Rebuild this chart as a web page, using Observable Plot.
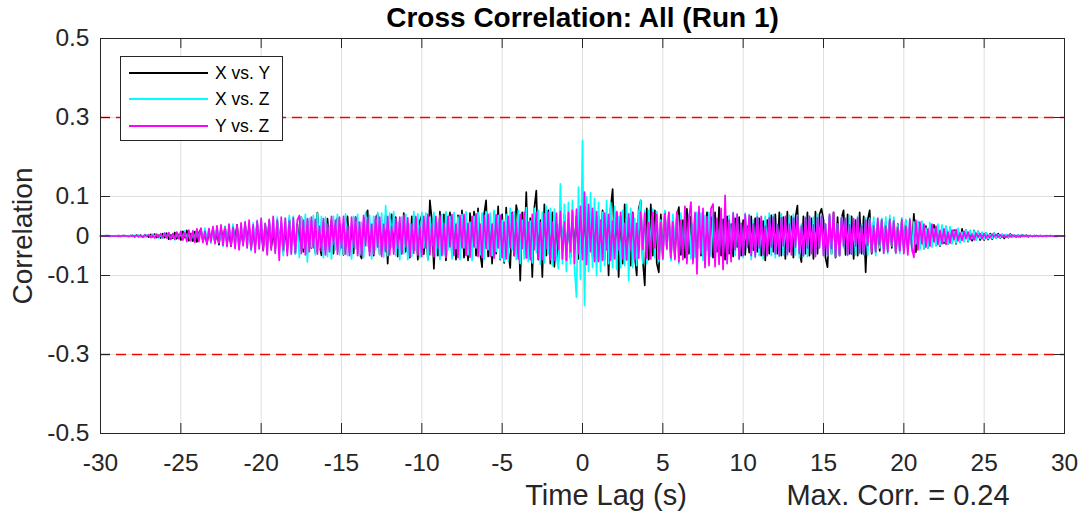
<!DOCTYPE html>
<html><head><meta charset="utf-8">
<script src="https://cdn.jsdelivr.net/npm/d3@7"></script>
<script src="https://cdn.jsdelivr.net/npm/@observablehq/plot@0.6"></script>
<style>
body{margin:0;background:#fff;}
#wrap{position:relative;width:1085px;height:516px;font-family:Arial,"Liberation Sans",Helvetica,sans-serif;}
#legend{position:absolute;left:120px;top:56px;width:163px;height:85px;border:1px solid #262626;background:#fff;box-sizing:border-box;}
.row{position:absolute;left:0;width:100%;height:26px;}
.sw{position:absolute;left:8px;width:79px;height:2px;top:12px;}
.lab{position:absolute;left:94px;top:0;font-size:17.5px;line-height:26px;color:#000;white-space:nowrap;}
</style>
</head><body>
<div id="wrap"></div>
<script>
// ---- data ----
const seriesNames = ["X vs. Y", "X vs. Z", "Y vs. Z"];
const lagStart = -30, lagStep = 0.125; // time lag (s) of first sample and sample spacing
const xTicks = [-30,-25,-20,-15,-10,-5,0,5,10,15,20,25,30];
const yTicks = [-0.5,-0.3,-0.1,0,0.1,0.3,0.5];
const thresholds = [0.3,-0.3];
const maxCorr = 0.24;

// X vs. Y (one row = 1 s)
const xyValues = [
0,0,0,.001,0,-.001,0,0,
0,.001,-.001,0,.001,0,-.001,.001,
.001,-.002,.002,-.001,.002,-.003,.002,.001,
-.003,.004,-.002,.005,-.004,.002,-.005,.006,
-.004,.007,-.008,.003,-.006,.009,-.007,.004,
-.010,.012,-.004,.014,-.012,.006,-.013,.011,
-.015,.009,.017,-.012,.005,-.018,.010,-.008,
.020,-.016,.008,-.022,.019,-.010,.024,-.018,
.012,-.026,.022,-.009,.028,-.024,.012,-.020,
.030,-.012,.025,-.032,.015,-.028,.034,-.015,
.020,-.036,.030,-.014,.038,-.030,.010,-.034,
.040,-.018,.032,-.042,.022,-.038,.044,-.020,
.028,-.045,.030,-.016,.048,-.040,.022,-.044,
.040,-.030,.038,-.042,.059,-.020,-.049,.035,
-.036,.044,-.018,.040,-.045,.030,.046,-.038,
.025,-.048,.026,.050,-.040,.018,-.044,.048,
.036,-.045,-.057,.030,.048,.065,-.040,.028,
-.050,.042,.055,-.046,.020,-.038,.052,-.070,
.040,.055,-.030,.048,-.052,.022,-.045,.058,
-.040,.018,-.055,.050,-.035,.044,-.060,.038,
.052,-.046,.025,-.058,.090,.040,-.083,.030,
-.050,.062,-.030,.055,-.062,.020,.060,-.048,
.045,-.060,.052,-.028,.065,-.055,.030,-.062,
.058,-.035,.062,-.050,.070,-.042,-.079,.055,
.090,-.052,.038,-.070,.060,-.045,.075,-.060,
.055,-.068,.072,-.038,-.081,.060,-.050,.078,
.050,-.113,.060,-.040,.111,-.055,.045,-.104,
.070,.115,-.060,.040,-.104,.080,-.050,.065,
-.070,.060,-.078,.030,-.065,.072,-.040,.055,
-.060,.045,-.055,.060,-.035,.050,-.058,.040,
-.045,.055,-.050,.038,.060,-.052,.045,-.062,
.050,-.045,.065,-.060,.040,-.100,.070,.119,
-.040,.060,-.104,.050,-.070,.080,-.060,.045,
-.075,.060,-.050,-.100,.070,.090,-.060,-.125,
.070,-.060,.080,-.050,.065,-.070,-.092,.055,
-.050,.062,-.030,.058,-.060,.045,-.055,.050,
.073,-.048,.040,-.055,.069,-.045,.050,-.060,
.055,-.030,.062,-.050,.045,-.058,.060,-.042,
.048,-.055,.060,-.040,.073,-.050,.042,-.060,
.050,-.045,.030,-.052,.045,-.028,.048,-.050,
.040,-.048,.025,-.042,.050,-.036,.045,-.040,
.045,-.050,.038,-.062,.040,-.045,.052,-.040,
.055,-.045,.060,-.050,.048,-.058,.062,-.040,
.050,-.055,.045,.077,-.040,-.066,.050,-.045,
.060,-.050,.045,-.058,.062,-.045,.055,.069,
.040,-.055,-.079,.050,-.045,.060,-.055,.048,
-.050,.045,.065,-.048,.055,-.045,.050,-.058,
.040,-.050,.060,-.045,.050,-.092,.040,.065,
-.045,.035,-.040,.030,-.038,.042,-.032,.036,
-.035,.040,-.030,.038,-.042,.030,-.036,.040,
-.032,.038,-.035,.030,-.030,.056,-.041,.035,
-.030,.028,-.032,.025,-.030,.026,-.022,.028,
-.024,.020,-.026,.022,-.018,.024,-.020,.016,
-.018,.015,-.020,.014,-.016,.018,-.012,.015,
-.014,.010,-.012,.014,-.009,.012,-.010,.008,
-.010,.008,-.009,.006,-.008,.007,-.005,.006,
-.005,.004,-.006,.003,-.004,.005,-.003,.002,
-.003,.002,-.002,.003,-.001,.002,-.002,.001,
-.001,.001,0,-.001,.001,0,0,-.001,
0,.001,0,0,-.001,0,0,0,
0];

// X vs. Z
const xzValues = [
0,0,.001,0,0,-.001,0,0,
.001,0,-.001,.001,0,-.001,.001,0,
-.002,.002,-.001,.003,-.002,.001,-.003,.002,
.004,-.003,.005,-.002,.006,-.005,.003,-.006,
.008,-.004,.009,-.008,.003,-.010,.008,-.005,
.011,-.009,.013,-.006,.008,-.014,.012,-.010,
.016,-.008,.018,-.015,.020,-.007,.017,-.019,
.022,-.012,.025,-.016,.010,-.026,.023,-.020,
.028,-.014,.030,-.027,.016,-.032,.030,-.018,
.035,-.030,.018,-.038,.033,-.020,.040,-.034,
.042,-.022,.030,-.045,.040,-.018,.046,-.040,
.048,-.026,.035,-.050,.045,-.024,.052,-.042,
.050,-.046,.025,-.055,.048,-.030,.055,-.066,
.045,-.028,.052,-.048,.058,-.030,.050,-.055,
.048,-.052,.026,-.058,.050,-.035,.055,-.048,
.030,-.046,.056,-.050,.024,-.058,.050,-.032,
.055,-.050,.035,-.055,.060,-.025,.052,-.058,
.050,-.035,.060,-.048,.058,-.054,.077,-.050,
.058,-.028,.062,-.050,.035,-.060,.048,-.045,
.055,-.060,.030,-.052,.062,-.036,.056,-.055,
.060,-.030,.058,-.062,.048,-.025,.060,-.050,
.032,-.060,.055,-.048,.062,-.035,.050,-.058,
.060,-.032,.048,-.060,.055,-.030,.062,-.048,
.035,-.062,.050,-.030,.060,-.048,.058,-.060,
.062,-.035,.058,-.050,.065,-.040,.052,-.058,
.040,-.065,.055,-.062,.070,-.035,.062,-.060,
.065,-.070,.040,-.058,.072,-.065,.038,-.068,
.070,-.042,.065,-.072,.060,-.068,.075,-.045,
.070,-.075,.068,-.050,-.083,.132,-.070,.080,
-.090,.085,-.070,.090,-.080,-.155,.124,-.110,
.242,-.176,.100,-.090,.110,-.080,.095,-.100,
.085,-.090,.060,-.075,.090,-.070,.085,-.080,
.075,-.085,.050,-.080,.065,-.075,.080,-.113,
.070,-.080,.045,-.075,.060,.090,-.070,.065,
-.070,.065,-.040,.068,-.055,.062,-.065,.040,
-.060,.065,-.035,.060,-.062,.055,-.030,.060,
-.070,.058,-.052,.040,-.060,.055,-.058,.030,
-.055,.060,-.030,.058,-.062,.052,-.036,.060,
-.052,.058,-.060,.030,-.055,.062,-.050,.035,
-.058,.052,-.035,.060,-.050,.056,-.060,.032,
-.055,.058,-.030,.055,-.060,.040,-.055,.058,
-.050,.035,-.058,.050,-.032,.058,-.050,.054,
-.055,.030,-.052,.056,-.048,.035,-.050,.052,
-.030,.055,-.048,.052,-.055,.030,-.052,.048,
-.052,.050,-.035,.048,-.050,.055,-.028,.052,
-.048,.030,-.050,.055,-.046,.050,-.052,.030,
-.050,.048,-.030,.045,-.050,.052,-.046,.028,
-.048,.050,-.045,.030,-.048,.046,-.050,.045,
-.026,.048,-.050,.044,-.030,.045,-.042,.048,
-.045,.052,-.025,.048,-.045,.028,-.044,.046,
-.040,.042,-.022,.045,-.040,.036,-.020,.038,
-.035,.038,-.032,.020,-.030,.034,-.028,.018,
-.026,.030,-.024,.028,-.014,.025,-.020,.024,
-.020,.012,-.018,.020,-.016,.010,-.015,.016,
-.013,.015,-.007,.013,-.010,.012,-.006,.010,
-.008,.009,-.007,.004,-.006,.007,-.005,.003,
-.004,.005,-.002,.004,-.003,.003,-.003,.002,
-.002,.002,-.001,.002,-.001,.001,-.001,.001,
0,.001,-.001,0,.001,0,-.001,0,
0,0,.001,0,0,-.001,0,0,
0];

// Y vs. Z
const yzValues = [
0,0,0,0,.001,0,0,0,
0,-.001,0,.001,0,0,-.001,0,
.001,-.001,.002,-.002,.001,-.003,.002,-.001,
.003,-.004,.002,-.005,.004,-.003,.006,-.004,
.007,-.005,.008,-.009,.006,-.008,.010,-.007,
.012,-.010,.008,-.014,.015,-.011,.013,-.016,
.018,-.014,.020,-.017,.012,-.022,.019,-.015,
.024,-.020,.026,-.018,.028,-.024,.020,-.027,
.030,-.026,.022,-.032,.028,-.035,.033,-.025,
.036,-.030,.040,-.034,.028,-.042,.038,-.032,
.045,-.038,.032,-.048,.042,-.036,.050,-.044,
.040,-.062,.048,-.035,.045,-.050,.038,-.046,
.046,-.042,.040,.052,-.045,.040,-.048,.044,
-.040,.048,-.030,.042,-.046,.025,-.038,.044,
-.048,.030,-.040,.050,-.022,.040,-.046,.048,
-.030,.050,-.046,.025,-.050,.048,-.028,.046,
-.050,.035,-.048,.052,-.025,.046,-.050,.030,
-.046,.050,-.028,.048,-.052,.030,-.040,.050,
-.048,.025,-.046,.044,-.030,.048,-.045,.052,
-.028,.046,-.052,.030,-.044,.050,-.048,.025,
-.052,.050,-.030,.055,-.048,.028,-.053,.050,
-.030,.052,-.050,.032,-.055,.050,-.028,.054,
-.050,.030,-.055,.052,-.030,.055,-.050,.032,
-.054,.050,-.028,.056,-.052,.030,-.055,.052,
-.032,.055,-.052,.030,-.056,.054,-.030,.052,
-.055,.035,-.058,.050,-.030,.058,-.050,.035,
-.058,.055,-.032,.060,-.056,.035,-.060,.055,
-.035,.060,-.058,.034,-.060,.056,-.032,.060,
-.060,.035,-.062,.058,-.034,.062,-.058,.036,
-.062,.060,-.040,.065,-.070,.068,-.045,.075,
-.060,.111,-.072,.080,-.040,.070,-.065,.062,
-.065,.040,-.062,.058,-.035,.055,-.062,.038,
-.058,.062,-.035,.060,-.058,.032,-.060,.056,
-.035,.058,-.060,.032,-.056,.060,-.034,.058,
-.056,.034,-.058,.060,-.030,.055,-.058,.035,
-.058,.056,-.032,.060,-.055,.036,-.060,.062,
-.065,.040,-.060,.075,-.070,.045,.086,-.070,
.060,-.096,.075,-.045,.070,-.080,.050,-.075,
.070,.081,-.078,.045,-.072,.070,-.085,.103,
-.070,.040,-.065,.058,-.035,.055,-.058,.032,
-.050,.055,-.028,.052,-.050,.030,-.052,.048,
-.030,.050,-.048,.025,-.050,.046,-.028,.048,
-.045,.028,-.050,.046,-.025,.050,-.046,.030,
-.048,.045,-.028,.050,-.044,.025,-.050,.046,
-.030,.050,-.045,.028,-.052,.046,-.030,.050,
-.050,.030,-.048,.055,-.032,.060,-.052,.030,
-.048,.046,-.025,.044,-.048,.028,-.046,.044,
-.026,.046,-.042,.025,-.046,.040,-.024,.042,
-.042,.026,-.040,.045,-.022,.040,-.044,.025,
-.040,.042,-.024,.038,-.042,.022,-.038,.042,
-.045,.025,-.048,.042,-.030,-.054,.040,-.035,
.035,-.020,.030,-.028,.018,-.026,.030,-.015,
.025,-.022,.014,-.020,.018,-.021,.010,-.018,
.015,-.008,.016,-.012,.007,-.011,.012,-.006,
.010,-.009,.004,-.010,.007,-.003,.006,-.007,
.006,-.005,.002,-.004,.005,-.002,.004,-.003,
.003,-.003,.002,-.003,.002,-.002,.002,-.001,
.001,-.002,.001,-.001,.001,-.001,.001,0,
0,-.001,.001,0,0,-.001,0,.001,
0,0,0,-.001,0,0,0,0,
0];

const seriesColors = ["#000000", "#00ffff", "#ff00ff"];

// ---- build table ----
function toRows(vals){ return vals.map((v,i)=>({lag: lagStart + i*lagStep, value: v})); }
const seriesData = [xyValues, xzValues, yzValues].map(toRows);

const fmt = d => String(d);
const chart = Plot.plot({
  width: 1085, height: 516,
  marginLeft: 100, marginRight: 21, marginTop: 38, marginBottom: 83,
  x: {domain: [-30, 30]},
  y: {domain: [-0.5, 0.5]},
  style: {fontFamily: "Arial, 'Liberation Sans', Helvetica, sans-serif", background: "#fff", color: "#262626", overflow: "visible"},
  marks: [
    Plot.gridX(xTicks, {stroke: "#dfdfdf", strokeOpacity: 1}),
    Plot.gridY(yTicks, {stroke: "#dfdfdf", strokeOpacity: 1}),
    ...seriesData.map((d, i) => Plot.line(d, {x: "lag", y: "value", stroke: seriesColors[i], strokeWidth: 1.7})),
    Plot.ruleY(thresholds, {stroke: "#ff0000", strokeOpacity: 1, strokeWidth: 1.5, strokeDasharray: "10,6"}),
    Plot.frame({stroke: "#262626", strokeWidth: 1}),
    Plot.tickX(xTicks, {x: d => d, stroke: "#262626", insetBottom: 385}),
    Plot.tickX(xTicks, {x: d => d, stroke: "#262626", insetTop: 385}),
    Plot.tickY(yTicks, {y: d => d, stroke: "#262626", insetRight: 954}),
    Plot.tickY(yTicks, {y: d => d, stroke: "#262626", insetLeft: 954}),
    Plot.axisX(xTicks, {tickSize: 0, tickPadding: 20, fontSize: 24.5, tickFormat: fmt, label: null}),
    Plot.axisY(yTicks, {tickSize: 0, tickPadding: 11, fontSize: 24.5, tickFormat: fmt, label: null}),
    Plot.text(["Cross Correlation: All (Run 1)"], {frameAnchor: "top", lineAnchor: "middle", textAnchor: "middle", dy: -20.5, fontSize: 28, fontWeight: "bold", fill: "#000"}),
    Plot.text(["Time Lag (s)"], {frameAnchor: "bottom", lineAnchor: "middle", textAnchor: "middle", dx: 23.5, dy: 62, fontSize: 29, fill: "#262626"}),
    Plot.text([`Max. Corr. = ${maxCorr}`], {frameAnchor: "bottom", lineAnchor: "middle", textAnchor: "middle", dx: 315.5, dy: 62, fontSize: 29, fill: "#262626"}),
    Plot.text(["Correlation"], {frameAnchor: "left", lineAnchor: "middle", textAnchor: "middle", dx: -77, rotate: -90, fontSize: 28, fill: "#262626"})
  ]
});
const wrap = document.getElementById("wrap");
wrap.appendChild(chart);

// legend (box inside the axes, upper-left)
const legend = document.createElement("div");
legend.id = "legend";
seriesNames.forEach((name, i) => {
  const row = document.createElement("div");
  row.className = "row";
  row.style.top = (3 + i * 26.3) + "px";
  const sw = document.createElement("div");
  sw.className = "sw";
  sw.style.background = seriesColors[i];
  const lab = document.createElement("div");
  lab.className = "lab";
  lab.textContent = name;
  row.appendChild(sw); row.appendChild(lab);
  legend.appendChild(row);
});
wrap.appendChild(legend);
</script>
</body></html>
